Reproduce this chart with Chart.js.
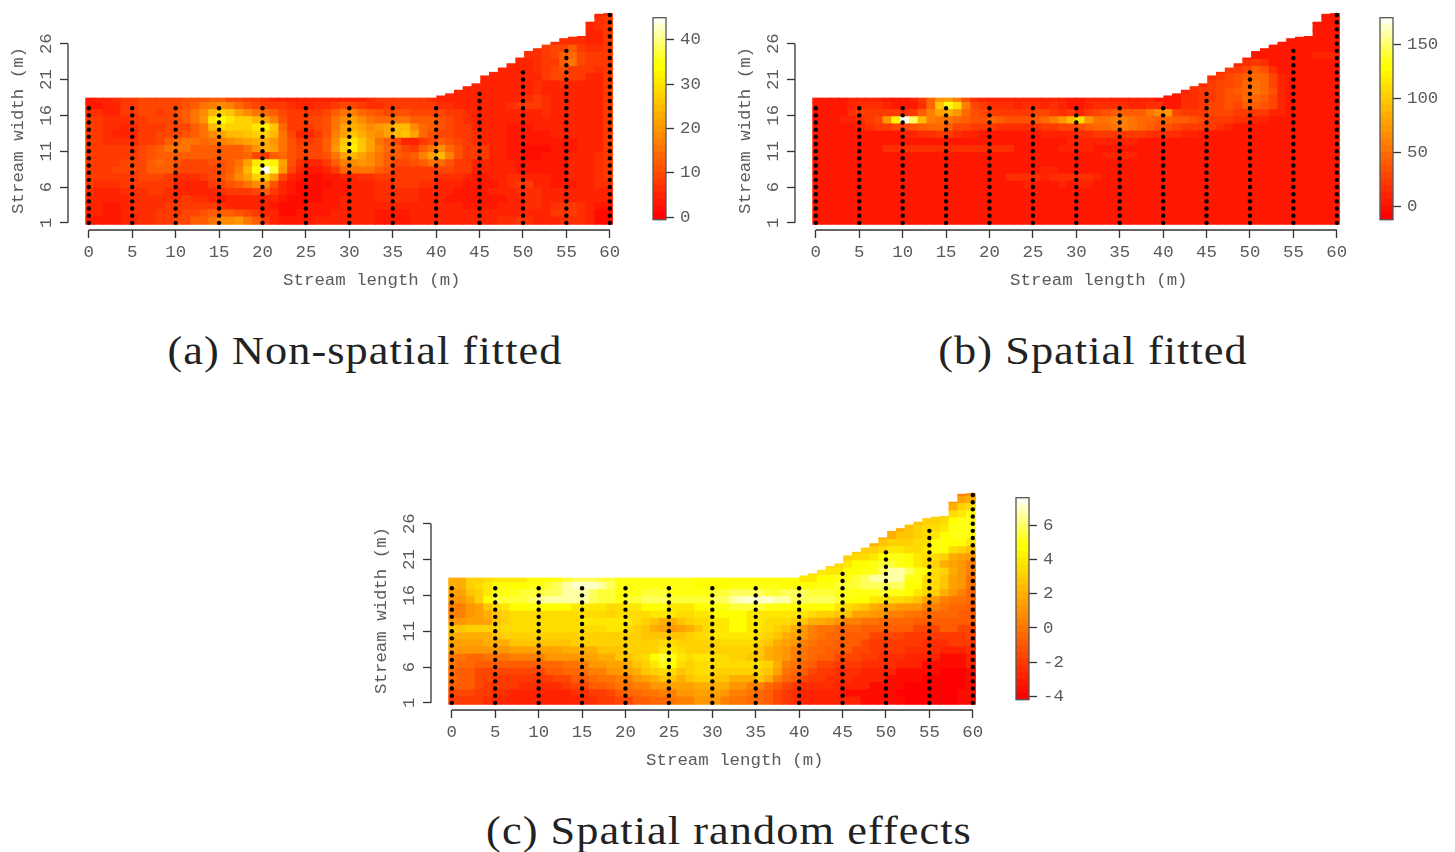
<!DOCTYPE html>
<html>
<head>
<meta charset="utf-8">
<title>Stream maps</title>
<script src="https://cdn.jsdelivr.net/npm/chart.js@4"></script>
<style>
  html, body { margin: 0; padding: 0; background: #fff; }
  body { position: relative; width: 1455px; height: 852px; overflow: hidden; }
  canvas { position: absolute; }
  .caption {
    position: absolute; width: 700px; text-align: center; color: #222;
    font: 41px "Liberation Serif", serif; letter-spacing: 1px; line-height: 46px;
    transform: scaleX(1.08);
  }
</style>
</head>
<body>
<canvas id="map-a" width="640" height="300" style="left:0;top:0"></canvas>
<canvas id="bar-a" width="90" height="240" style="left:640px;top:0"></canvas>
<canvas id="map-b" width="640" height="300" style="left:727px;top:0"></canvas>
<canvas id="bar-b" width="90" height="240" style="left:1367px;top:0"></canvas>
<canvas id="map-c" width="640" height="300" style="left:363px;top:480px"></canvas>
<canvas id="bar-c" width="90" height="240" style="left:1003px;top:480px"></canvas>
<div class="caption" style="left:15px;top:327px">(a) Non-spatial fitted</div>
<div class="caption" style="left:743px;top:327px">(b) Spatial fitted</div>
<div class="caption" style="left:379px;top:807px">(c) Spatial random effects</div>

<script>
const xTicks = [0, 5, 10, 15, 20, 25, 30, 35, 40, 45, 50, 55, 60];
const yTicks = [1, 6, 11, 16, 21, 26];

// transects: stream position and how far up the bank the sampling points go
const transectX = [0, 5, 10, 15, 20, 25, 30, 35, 40, 45, 50, 55, 60];
const transectTop = [17, 17, 17, 17, 17, 17, 17, 17, 17, 19, 22, 25, 30];

// top edge of the mapped area for each of the 60 columns
const columnTop = [
  18.4, 18.4, 18.4, 18.4, 18.4, 18.4, 18.4, 18.4, 18.4, 18.4,
  18.4, 18.4, 18.4, 18.4, 18.4, 18.4, 18.4, 18.4, 18.4, 18.4,
  18.4, 18.4, 18.4, 18.4, 18.4, 18.4, 18.4, 18.4, 18.4, 18.4,
  18.4, 18.4, 18.4, 18.4, 18.4, 18.4, 18.4, 18.4, 18.4, 18.4,
  18.7, 19.0, 19.5, 20.0, 20.4, 21.5, 22.0, 22.6, 23.2, 24.0,
  24.9, 25.3, 25.8, 26.2, 26.7, 26.9, 27.0, 29.0, 30.1, 30.2,
];

// rows run from the bottom of the map up, short rows are aligned to the right edge
const nonSpatialRows = [
  [3,3,3,3,4,5,6,6,7,7, 9,10,12,13,15,18,19,20,16,12, 8,5,3,3,3,3,4,4,5,5, 4,4,4,3,3,3,3,4,4,5, 5,5,5,5,5,5,5,6,6,7, 6,5,5,5,6,6,6,5,2,2],
  [4,4,3,3,5,6,6,6,7,7, 8,9,10,11,12,13,12,11,9,7, 5,4,2,2,3,3,3,3,4,4, 4,4,4,3,3,3,3,4,4,5, 5,5,4,4,5,5,4,4,5,5, 5,5,5,7,8,8,6,5,2,2],
  [5,4,3,3,5,6,6,6,6,7, 7,8,8,8,8,6,5,5,5,5, 4,3,2,2,2,3,3,3,3,4, 5,5,5,5,5,4,4,5,5,5, 4,4,4,3,3,3,3,4,5,5, 6,6,5,6,8,8,6,5,3,3],
  [5,5,4,4,5,6,6,6,6,6, 6,7,6,6,4,3,4,5,5,5, 5,4,3,2,2,2,2,3,3,4, 5,5,5,6,6,6,6,6,5,5, 4,3,3,3,3,3,3,3,4,5, 6,6,5,5,5,5,5,5,4,4],
  [6,5,5,5,6,6,6,7,7,6, 5,4,4,5,5,6,7,7,8,10, 13,7,4,3,2,2,2,3,3,3, 4,4,5,6,6,6,6,6,5,5, 5,4,3,3,3,3,4,4,5,6, 6,6,5,4,4,4,4,5,5,5],
  [7,6,6,6,7,7,7,8,8,7, 5,4,4,5,7,9,11,13,15,18, 19,11,5,3,2,2,2,2,3,3, 4,4,5,6,6,7,7,7,6,6, 5,5,4,3,3,3,3,5,6,7, 7,5,4,3,3,3,4,5,6,6],
  [8,7,7,7,8,8,9,9,9,8, 6,6,6,8,10,11,14,18,22,27, 28,22,10,5,3,2,2,3,3,4, 5,6,6,7,7,7,8,8,7,7, 6,6,6,5,3,3,4,5,6,6, 5,4,4,3,3,4,4,5,6,7],
  [7,7,8,9,9,9,10,12,13,12, 10,9,9,9,10,11,13,17,25,35, 44,36,20,9,4,3,3,4,8,14, 15,16,15,13,11,8,8,8,8,8, 9,9,8,7,5,4,4,4,4,3, 3,3,3,3,3,4,4,5,6,7],
  [7,8,8,8,9,9,10,12,14,13, 11,10,10,10,11,11,13,15,21,30, 35,32,22,11,6,5,5,7,12,17, 19,20,18,15,12,10,10,11,13,15, 14,11,8,7,5,4,4,4,4,3, 3,3,3,3,3,4,4,5,6,7],
  [8,8,8,8,8,8,9,11,13,13, 13,13,13,12,12,12,12,13,14,10, 7,13,14,11,10,9,9,11,16,21, 25,22,18,15,13,12,11,12,17,21, 24,17,11,8,8,7,5,4,3,3, 2,2,3,3,3,4,4,5,6,7],
  [8,8,7,7,8,8,9,11,13,15, 16,15,13,12,12,12,12,13,15,20, 23,21,15,11,10,9,10,13,20,27, 32,26,21,17,14,12,9,8,12,16, 18,14,11,8,8,7,5,4,3,3, 2,2,2,3,3,3,4,5,5,7],
  [8,7,6,6,6,6,7,8,10,12, 14,15,15,14,15,17,19,20,21,23, 23,20,15,11,8,8,9,12,18,26, 31,26,21,16,13,9,4,4,7,10, 12,11,9,8,6,5,4,4,3,3, 3,3,3,3,3,3,4,4,5,7],
  [7,7,6,5,4,5,7,8,9,9, 10,11,13,15,18,21,24,25,26,28, 27,24,15,9,5,5,8,11,17,22, 26,23,20,19,21,24,26,22,14,11, 10,9,8,7,6,5,4,4,3,3, 3,3,3,4,4,4,4,5,5,7],
  [7,7,6,6,5,6,7,8,8,9, 9,10,12,16,24,29,28,27,28,31, 32,26,14,8,7,7,9,11,16,21, 23,21,19,20,22,25,24,19,14,13, 11,10,8,7,5,4,4,4,3,3, 3,4,4,4,4,4,4,5,5,7],
  [7,7,6,6,6,7,8,9,9,10, 11,13,15,20,30,33,30,28,27,25, 22,17,11,8,8,9,10,11,15,19, 21,18,15,14,14,15,15,13,12,12, 11,9,7,6,5,4,4,4,4,4, 4,4,4,4,4,4,4,5,5,7],
  [6,6,5,5,7,8,9,9,8,9, 11,13,15,18,24,28,26,22,19,16, 14,13,10,8,7,7,8,9,12,15, 17,14,12,11,10,11,11,10,9,10, 9,8,7,6,5,5,5,5,5,4, 5,5,6,5,5,5,5,5,5,7],
  [3,3,5,5,7,8,9,9,9,9, 10,11,13,15,17,19,17,14,11,9, 8,8,7,6,5,5,6,6,7,9, 9,8,6,6,8,8,8,8,7,7, 6,6,5,5,5,5,5,5,6,7, 8,8,6,5,4,4,5,5,5,7],
  [3,4,5,6,7,8,9,9,10,10, 10,11,11,11,12,12,10,9,8,7, 6,5,5,5,4,4,4,4,4,5, 5,5,6,7,7,7,7,7,7,6, 5,5,5,5,5,5,5,5,5,5, 6,7,6,4,4,4,5,5,5,7],
  [5,5,5,5,4,4,4,5,5,5,6,5,5,5,5,5,5,5,7],
  [4,5,4,5,5,5,5,5,6,5,5,6,5,5,5,5,7],
  [4,4,4,5,5,5,5,7,9,9,8,7,5,5,7],
  [4,4,4,5,5,6,7,10,11,8,7,7,6,7],
  [4,5,5,6,7,8,12,15,10,8,7,7],
  [5,6,6,7,9,12,14,9,7,7,7],
  [5,6,7,9,10,12,8,6,6,7],
  [6,6,6,6,5,5,7],
  [5,5,5,5,7],
  [5,6,7],
  [5,6,7],
  [5,6],
];

const spatialRows = [
  [3,3,3,3,3,3,3,3,3,3, 3,3,3,3,3,3,3,3,3,3, 3,3,3,3,3,3,3,3,3,3, 3,3,3,3,3,3,3,3,3,3, 3,3,3,3,3,3,3,3,3,3, 3,3,3,3,3,3,3,3,3,3],
  [3,3,3,3,3,3,3,3,3,3, 3,3,3,3,3,3,3,3,3,3, 3,3,3,3,3,3,3,3,3,3, 3,3,3,3,3,3,3,3,3,3, 3,3,3,3,3,3,3,3,3,3, 3,3,3,3,3,3,3,3,3,3],
  [3,3,3,3,3,3,3,3,3,3, 3,3,3,3,3,3,3,3,3,3, 3,3,3,3,3,3,3,3,3,3, 3,3,3,3,3,3,3,3,3,3, 3,3,3,3,3,3,3,3,3,3, 3,3,3,3,3,3,3,3,3,3],
  [3,3,3,3,3,3,3,3,3,3, 3,3,3,3,3,3,3,3,3,3, 3,3,3,3,3,3,3,3,3,3, 3,3,3,3,3,3,3,3,3,3, 3,3,3,3,3,3,3,3,3,3, 3,3,3,3,3,3,3,3,3,3],
  [3,3,3,3,3,3,3,3,3,3, 3,3,3,3,3,3,3,3,3,3, 3,3,3,3,3,3,6,6,3,3, 3,3,3,3,3,3,3,3,3,3, 3,3,3,3,3,3,3,3,3,3, 3,3,3,3,3,3,3,3,3,3],
  [3,3,3,3,3,3,3,3,3,3, 3,3,3,3,3,3,3,3,3,3, 3,3,6,6,8,6,4,6,8,6, 8,10,3,3,3,3,3,3,3,3, 3,3,3,3,3,3,3,3,3,3, 3,3,3,3,3,3,3,3,3,3],
  [3,3,3,3,3,3,3,3,3,3, 3,3,3,3,3,3,3,3,3,3, 3,3,14,14,16,14,12,14,14,14, 16,16,12,5,3,3,3,3,3,3, 3,3,3,3,3,3,3,3,3,3, 3,3,3,3,3,3,3,3,3,3],
  [3,3,3,3,5,5,3,3,3,3, 3,3,3,3,3,3,3,3,3,3, 3,3,3,3,3,3,8,8,3,3, 3,3,3,3,3,3,3,3,3,3, 3,3,3,3,3,3,3,3,3,3, 3,3,3,3,3,3,3,3,3,3],
  [3,3,3,3,3,3,3,3,3,3, 3,3,3,3,3,3,3,3,3,3, 3,3,3,3,3,3,6,6,3,3, 3,3,3,6,6,6,3,3,3,3, 3,3,3,3,3,3,3,3,3,3, 3,3,3,3,3,3,3,3,3,3],
  [3,3,3,3,3,3,3,3,3,3, 3,3,3,3,3,3,3,3,3,3, 3,3,3,3,3,3,3,3,3,3, 3,3,3,9,9,9,9,3,3,3, 3,3,3,3,3,3,3,3,3,3, 3,3,3,3,3,3,3,3,3,3],
  [3,3,3,3,3,3,3,3,13,13, 13,13,13,13,13,13,13,13,13,13, 13,13,13,3,3,3,3,3,8,8, 8,8,3,3,3,3,3,3,3,3, 3,3,3,3,3,3,3,3,3,3, 3,3,3,3,3,3,3,3,3,3],
  [3,3,3,3,3,3,3,3,3,4, 4,4,4,4,4,4,5,5,5,4, 4,4,4,4,4,4,4,4,6,8, 10,10,8,8,8,8,8,6,6,5, 5,4,3,3,3,3,3,3,3,3, 3,3,3,3,3,3,3,3,3,3],
  [3,3,3,3,3,4,4,4,5,6, 10,12,14,18,20,20,16,12,8,6, 6,6,6,6,6,6,8,10,10,12, 15,18,20,22,25,25,25,22,18,16, 16,15,12,8,5,3,3,3,3,3, 3,3,3,3,3,3,3,3,3,3],
  [3,3,3,5,6,10,16,20,25,28, 30,35,40,45,48,40,30,28,25,22, 20,18,16,15,16,18,22,25,30,30, 35,40,45,50,55,58,52,45,40,35, 35,30,25,25,25,22,18,8,3,3, 3,3,3,3,3,3,3,3,3,3],
  [3,3,3,8,12,18,25,30,70,120, 170,150,90,60,55,55,50,40,35,35, 45,40,35,32,35,40,50,60,70,90, 110,75,55,55,60,60,55,50,45,42, 45,42,38,32,30,25,25,20,15,15, 12,8,3,3,3,3,3,3,3,3],
  [3,3,3,3,14,22,25,22,22,20, 15,25,40,60,80,85,70,50,35,28, 25,22,22,22,25,30,28,20,15,25, 12,25,30,35,40,40,40,42,55,65, 70,30,22,22,25,28,30,28,22,25, 25,22,12,8,3,3,3,3,3,3],
  [3,3,3,3,12,16,16,14,12,6, 3,4,15,50,100,135,110,60,30,20, 15,18,14,12,14,14,12,14,12,6, 3,10,14,15,14,14,12,12,14,14, 3,6,15,15,22,28,30,32,28,40, 42,32,28,12,3,3,3,3,3,3],
  [3,3,3,5,8,10,10,8,5,4, 4,10,25,45,70,80,60,35,18,12, 10,12,10,8,8,10,8,8,8,5, 5,8,10,10,10,8,8,8,8,5, 3,5,14,14,20,25,28,32,35,45, 48,40,30,12,3,3,3,3,3,3],
  [6,10,14,20,25,30,32,38,45,55,45,35,12,3,3,3,3,3,3],
  [14,18,25,28,30,35,45,55,45,30,10,3,3,3,3,3,3],
  [18,22,28,32,40,50,48,30,8,3,3,3,3,3,3],
  [16,20,24,30,40,35,18,6,3,3,3,3,3,3],
  [12,18,22,16,6,3,3,3,3,3,3,3],
  [6,6,5,3,3,3,3,3,8,10,10],
  [3,3,3,3,3,3,3,3,3,3],
  [3,3,3,3,3,3,3],
  [3,3,3,3,3],
  [3,3,3],
  [3,3,3],
  [3,3],
];

const randomRows = [
  [-2,-2,-2,-2,-2.5,-3,-3,-3,-3,-3, -3,-3,-3,-3,-3,-2.5,-2.5,-2,-2,-1.5, -1.5,-1,-1,-0.5,-0.5,0,0.5,0.5,1,1, 1,0.5,0,0,-0.5,-0.5,-1,-1.5,-2,-2.5, -3,-3,-3,-3,-3,-3,-3,-3.5,-3.5,-3.5, -3.5,-3.5,-4,-4,-4,-4,-4,-4,-3.5,-3.5],
  [-1.5,-1.5,-1.5,-2,-2,-2.5,-2.5,-3,-3,-3, -3,-3,-3,-3,-2.5,-2.5,-2,-2,-1.5,-1, -0.5,-0.5,0,0,0.5,0.5,1,1,1.5,1.5, 1.5,1,0.5,0.5,0,-0.5,-1,-1.5,-2,-2.5, -3,-3,-3,-3,-3,-3.5,-3.5,-3.5,-3.5,-3.5, -3.5,-4,-4,-4,-4,-4,-4,-4,-3.5,-3.5],
  [-1,-1,-1,-1.5,-2,-2,-2,-2,-2.5,-2.5, -2.5,-2.5,-2.5,-2,-1.5,-1.5,-1,-1,-0.5,0, 0,0.5,0.5,1,1,1.5,1.5,1.5,2,2, 2,2,1,1,0.5,0.5,-0.5,-1,-1.5,-2, -2.5,-2.5,-2.5,-2.5,-3,-3,-3,-3,-3.5,-3.5, -3.5,-3.5,-4,-4,-4,-4,-4,-4,-4,-3.5],
  [-0.5,-1,-1,-1.5,-1.5,-2,-2,-2,-2,-2, -2,-2,-1.5,-1.5,-1,-1,-0.5,0,0,0.5, 0.5,1,1.5,2,2.5,2.5,2,2.5,3,3, 2.5,2.5,2,2,2,2.5,2,0.5,-0.5,-1, -1.5,-2,-2,-2.5,-2.5,-2.5,-3,-3,-3,-3, -3.5,-3.5,-3.5,-3.5,-4,-4,-4,-4,-4,-3.5],
  [-0.5,-1,-1,-1.5,-1.5,-1.5,-1.5,-1.5,-1.5,-1.5, -1.5,-1,-1,-0.5,-0.5,0,0.5,0.5,1,1, 1.5,2,2.5,3,3.5,3.5,2.5,3,3.5,3.5, 3,3,3,3,3,3,2.5,1.5,0,-0.5, -1,-1.5,-2,-2,-2.5,-2.5,-2.5,-3,-3,-3, -3,-3.5,-3.5,-3.5,-3.5,-3.5,-4,-4,-4,-3.5],
  [0,-0.5,-0.5,-1,-1,-1,-1,-1,-1,-1, -0.5,-0.5,-0.5,0,0,0.5,1,1,1.5,1.5, 2,2.5,3,4,5,4.5,3.5,3,3.5,3.5, 3.5,3.5,3.5,3.5,3.5,3.5,3,2,0.5,0, -0.5,-1,-1.5,-1.5,-2,-2,-2,-2.5,-2.5,-2.5, -2.5,-3,-3,-3,-3.5,-3.5,-3.5,-3.5,-3.5,-3],
  [0,0,-0.5,-0.5,0,0,0,0.5,0.5,0.5, 0.5,1,1,1,1,1.5,1.5,2,2,2.5, 2.5,3,3.5,4.5,5.5,5,4,3.5,4,4, 3.5,3.5,3,3,2.5,2.5,2,1.5,1,0.5, 0,-0.5,-1,-1,-1.5,-1.5,-1.5,-2,-2,-2.5, -2.5,-2.5,-3,-3,-3,-3,-3.5,-3.5,-3.5,-3],
  [1,1,1,1,1,1,1,1.5,1.5,1.5, 1.5,1.5,1.5,2,2,2,2,2.5,2.5,2.5, 3,3,3,3,4,4,3.5,3,3,3, 3,3,3,3,3,2.5,2,1.5,1,0.5, 0,-0.5,-0.5,-1,-1,-1,-1.5,-1.5,-2,-2, -2,-2,-2.5,-2.5,-2.5,-2.5,-3,-3,-3,-2.5],
  [1.5,1.5,1.5,1.5,2,2,2,2.5,2.5,2.5, 2.5,2.5,2.5,2.5,3,3,3,3,3,3, 3,3,3,3,3.5,3.5,3,3,3,3, 3,3.5,3.5,3.5,3.5,3,2.5,2,1.5,1, 0.5,0,-0.5,-0.5,-1,-1,-1,-1.5,-2,-2, -2,-2,-2,-2,-2.5,-2.5,-2.5,-2,-2,-2],
  [2,2,2,2,2,2.5,3,3,3,3, 3,3,3,3,3,3,3,3,3,3, 3,3,2.5,2.5,2.5,2.5,2.5,3,3.5,3.5, 4,4,4,4,4,3.5,3,2.5,2,1.5, 1,0.5,0,-0.5,-0.5,-1,-1,-1,-1.5,-1.5, -1.5,-1.5,-2,-2,-2,-2,-2,-2,-2,-1.5],
  [2.5,2.5,3,3,3,3,3.5,3.5,3.5,3.5, 3.5,3.5,3.5,3.5,3.5,3.5,3.5,3.5,4,4, 3.5,3,2.5,2,1.5,1,1.5,2,2.5,3.5, 4,4,4.5,4.5,4,4,3.5,3,2.5,2, 1,0.5,0,0,-0.5,-0.5,-0.5,-1,-1,-1, -1,-1,-1,-1.5,-1.5,-1.5,-1,-1,-1.5,-1.5],
  [1,1,1.5,1.5,1.5,2.5,3,3.5,3.5,3.5, 3.5,3.5,3.5,3.5,3.5,4,4,4,4,4, 4,3.5,3,2.5,2,2,2.5,3,3.5,3.5, 4,4,4.5,4.5,4,4,3.5,3.5,3.5,3, 2.5,2,2,1.5,1,0.5,0.5,0,0,-0.5, -0.5,-0.5,-0.5,-1,-1,-1,-1,-1,-1,-1],
  [0.5,0.5,1,1.5,2,2.5,3,3.5,3.5,3.5, 3.5,3.5,3.5,3.5,3.5,3.5,3.5,3.5,3,3.5, 3.5,3.5,3.5,4,4,4,3.5,3.5,4,4, 4.5,4.5,4.5,4.5,4,4,4,4,4,4, 4,3.5,3,3,2.5,2.5,1.5,1.5,1,1, 0.5,0.5,0,0,-0.5,-0.5,-0.5,-0.5,-1,-1],
  [0.5,0.5,1,1.5,2.5,3.5,4,4.5,4.5,4.5, 4.5,4.5,4.5,4.5,4,4,4,4,3.5,3.5, 4,4,4.5,4.5,4.5,4,4,4,4.5,4.5, 5,5,5.5,5.5,5.5,5.5,5,5,4.5,4.5, 4.5,4.5,4.5,4.5,4,3.5,3,2.5,2,1.5, 1.5,1,1,1,0.5,0.5,0,-0.5,-0.5,-1],
  [1,1,2,3,4.5,5.5,5.5,5.5,5.5,6, 6.5,6.5,6.5,6.5,6.5,6.5,6,5.5,5.5,5, 5.5,5.5,6,6,6,5.5,5.5,5.5,5.5,5.5, 6,6,6.5,7,7,7,7,6.5,6.5,6, 6,6,6,6,5.5,5,4.5,4.5,4,4, 3.5,3.5,3,2.5,1.5,1,0.5,0,0,-0.5],
  [1.5,1.5,2.5,3,4,5,5,5,5.5,5.5, 5.5,6,6,6.5,6.5,6.5,6,5.5,5.5,5, 5,5,5.5,5.5,5.5,5,5,5,5,5, 5.5,5.5,6,6,6,6,5.5,5.5,6,6, 6,5.5,5.5,5.5,5,5,5,5,5,5.5, 5,5,4.5,4,3.5,3,2,1,0.5,-0.5],
  [2,2,3,3.5,4,4.5,4.5,4.5,4.5,5, 5,5.5,6,6.5,7,7,7,6.5,6,5, 5,5,5,5,5,5,5,5,4.5,4.5, 4.5,4.5,5,5,5,5,5,5,4.5,4.5, 4.5,4.5,5,5,5.5,5.5,5.5,6,6,6, 6,6,4.5,4.5,3.5,3.5,2.5,1.5,1,0],
  [2,2,3,3,3.5,4,4,4,4,4.5, 4.5,4.5,5,5.5,6,6,6,5.5,5.5,5, 5,5,5,5,5,5,5,5,4.5,4.5, 4.5,4.5,4.5,4.5,4.5,4.5,4.5,4.5,4.5,4.5, 4,4,4.5,4.5,5,5,5.5,6,6.5,6.5, 6.5,6.5,5,5,3.5,3.5,2.5,1.5,1,0],
  [4,4,4,4,4.5,4.5,5,5,6,6.5,6.5,6,5,4.5,3.5,3,2,1,0.5],
  [3,3.5,4,4.5,4.5,5,5.5,5.5,5,4.5,4,3.5,3,2,1.5,1,0.5],
  [3,3.5,3.5,4,4.5,5,5,4.5,4,3.5,3.5,3,2,1.5,1],
  [2.5,3,3,3.5,4,4,3.5,3.5,4,4.5,4.5,3.5,3,2.5],
  [2,2.5,3,3,3,3.5,3.5,4.5,4.5,4.5,4.5,4],
  [1.5,2,2.5,2.5,3,3.5,4,4.5,5,5,4.5],
  [1.5,2,2.5,3,3.5,3.5,4,5,5,5],
  [2.5,3,3,3.5,4.5,5,5],
  [2.5,3,3.5,4,4.5],
  [2,3,3.5],
  [1,1.5,2],
  [0.5,1],
];

const barTicksA = [0, 10, 20, 30, 40];
const barTicksB = [0, 50, 100, 150];
const barTicksC = [-4, -2, 0, 2, 4, 6];

const MONO = '"Liberation Mono", monospace';
const MONO_SIZE = 17.4;
const TEXT = '#5a5a5a';
const INK = '#333';
const LEVELS = 30;
const COLS = 60;

// same ramp as R's heat.colors(30)
function levelColor(k) {
  const warm = 23;
  if (k < warm) return `rgb(255,${Math.round(255 * k / (warm - 1))},0)`;
  const j = LEVELS - warm;
  const sat = 1 - 1 / (2 * j) - (k - warm) * (1 - 1 / j) / (j - 1);
  return `rgb(255,255,${Math.round(255 * (1 - sat))})`;
}

function cellColor(v, min, max) {
  const k = Math.floor(((v - min) / (max - min)) * LEVELS);
  return levelColor(Math.max(0, Math.min(LEVELS - 1, k)));
}

// one floating-bar dataset per row of the map
function rowDatasets(rows, min, max) {
  const left = -0.35;
  const width = 60.65 / COLS;
  return rows.map((row, r) => {
    const first = COLS - row.length;
    return {
      type: 'bar',
      grouped: false,
      barPercentage: 1,
      categoryPercentage: 1,
      inflateAmount: 0.5,
      data: row.map((v, i) => ({
        x: left + width * (first + i + 0.5),
        y: [0.8 + r, Math.min(1.8 + r, columnTop[first + i])],
      })),
      backgroundColor: row.map((v) => cellColor(v, min, max)),
    };
  });
}

function transectPoints() {
  const pts = [];
  transectX.forEach((x, i) => {
    for (let y = 1; y <= transectTop[i]; y++) pts.push({ x, y });
  });
  return pts;
}

// R style axis lines: they stop at the first and last tick
const rAxisLines = {
  id: 'rAxisLines',
  afterDraw(chart) {
    const { ctx, scales: { x, y } } = chart;
    ctx.save();
    ctx.strokeStyle = INK;
    ctx.lineWidth = 1.3;
    ctx.beginPath();
    ctx.moveTo(x.getPixelForValue(0), y.bottom);
    ctx.lineTo(x.getPixelForValue(60), y.bottom);
    ctx.moveTo(x.left, y.getPixelForValue(1));
    ctx.lineTo(x.left, y.getPixelForValue(26));
    ctx.stroke();
    ctx.restore();
  },
};

const barOutline = {
  id: 'barOutline',
  afterDraw(chart) {
    const { ctx, chartArea: a } = chart;
    ctx.save();
    ctx.strokeStyle = '#555';
    ctx.lineWidth = 1.3;
    ctx.strokeRect(a.left, a.top, a.right - a.left, a.bottom - a.top);
    ctx.restore();
  },
};

function fixWidth(width) {
  return (s) => {
    s.width = width;
    s.paddingTop = 0;
    s.paddingBottom = 0;
  };
}

function drawMap(id, rows, min, max) {
  new Chart(document.getElementById(id), {
    data: {
      datasets: [
        ...rowDatasets(rows, min, max),
        {
          type: 'scatter',
          order: -1,
          data: transectPoints(),
          pointRadius: 2.2,
          pointBorderWidth: 0,
          pointBackgroundColor: '#000',
        },
      ],
    },
    options: {
      responsive: false,
      animation: false,
      events: [],
      layout: { padding: { top: 10, right: 27 } },
      plugins: { legend: { display: false }, tooltip: { enabled: false } },
      scales: {
        x: {
          type: 'linear',
          offset: false,
          min: -2.4,
          max: 60.37,
          afterFit: (s) => { s.height = 70; },
          afterBuildTicks: (s) => { s.ticks = xTicks.map((value) => ({ value })); },
          border: { display: false },
          grid: { offset: false, drawOnChartArea: false, tickLength: 8, tickColor: INK, tickWidth: 1.3 },
          ticks: {
            autoSkip: false, maxRotation: 0, minRotation: 0, padding: 4,
            color: TEXT, font: { family: MONO, size: MONO_SIZE }, callback: (v) => String(v),
          },
          // leading spaces: the label sits right of the plot centre in the original
          title: {
            display: true, text: '\u00a0\u00a0\u00a0\u00a0\u00a0\u00a0Stream length (m)',
            color: TEXT, font: { family: MONO, size: MONO_SIZE }, padding: { top: 9, bottom: 9 },
          },
        },
        y: {
          type: 'linear',
          min: 0,
          max: 30.7,
          afterFit: fixWidth(68),
          afterBuildTicks: (s) => { s.ticks = yTicks.map((value) => ({ value })); },
          border: { display: false },
          grid: { drawOnChartArea: false, tickLength: 8, tickColor: INK, tickWidth: 1.3 },
          ticks: {
            autoSkip: false, minRotation: 90, maxRotation: 90, crossAlign: 'center', padding: 3.5,
            color: TEXT, font: { family: MONO, size: MONO_SIZE }, callback: (v) => String(v),
          },
          title: {
            display: true, text: 'Stream width (m)\u00a0\u00a0',
            color: TEXT, font: { family: MONO, size: MONO_SIZE }, padding: { top: 8, bottom: 8 },
          },
        },
      },
    },
    plugins: [rAxisLines],
  });
}

function drawColorBar(id, min, max, ticks) {
  const step = (max - min) / LEVELS;
  const levels = Array.from({ length: LEVELS }, (_, k) => k);
  new Chart(document.getElementById(id), {
    type: 'bar',
    data: {
      labels: [''],
      datasets: levels.map((k) => ({
        grouped: false,
        barPercentage: 1,
        categoryPercentage: 1,
        inflateAmount: 0.5,
        data: [[min + k * step, min + (k + 1) * step]],
        backgroundColor: levelColor(k),
      })),
    },
    options: {
      responsive: false,
      animation: false,
      events: [],
      layout: { padding: { left: 13, top: 17.7, bottom: 20.3 } },
      plugins: { legend: { display: false }, tooltip: { enabled: false } },
      scales: {
        x: { display: false },
        y: {
          position: 'right',
          min,
          max,
          afterFit: fixWidth(64),
          afterBuildTicks: (s) => { s.ticks = ticks.map((value) => ({ value })); },
          border: { display: false },
          grid: { drawOnChartArea: false, tickLength: 8, tickColor: INK, tickWidth: 1.3 },
          ticks: {
            autoSkip: false, padding: 6, color: TEXT,
            font: { family: MONO, size: MONO_SIZE }, callback: (v) => String(v),
          },
        },
      },
    },
    plugins: [barOutline],
  });
}

drawMap('map-a', nonSpatialRows, -0.6, 45);
drawColorBar('bar-a', -0.6, 45, barTicksA);
drawMap('map-b', spatialRows, -12, 175);
drawColorBar('bar-b', -12, 175, barTicksB);
drawMap('map-c', randomRows, -4.2, 7.62);
drawColorBar('bar-c', -4.2, 7.62, barTicksC);
</script>
</body>
</html>
